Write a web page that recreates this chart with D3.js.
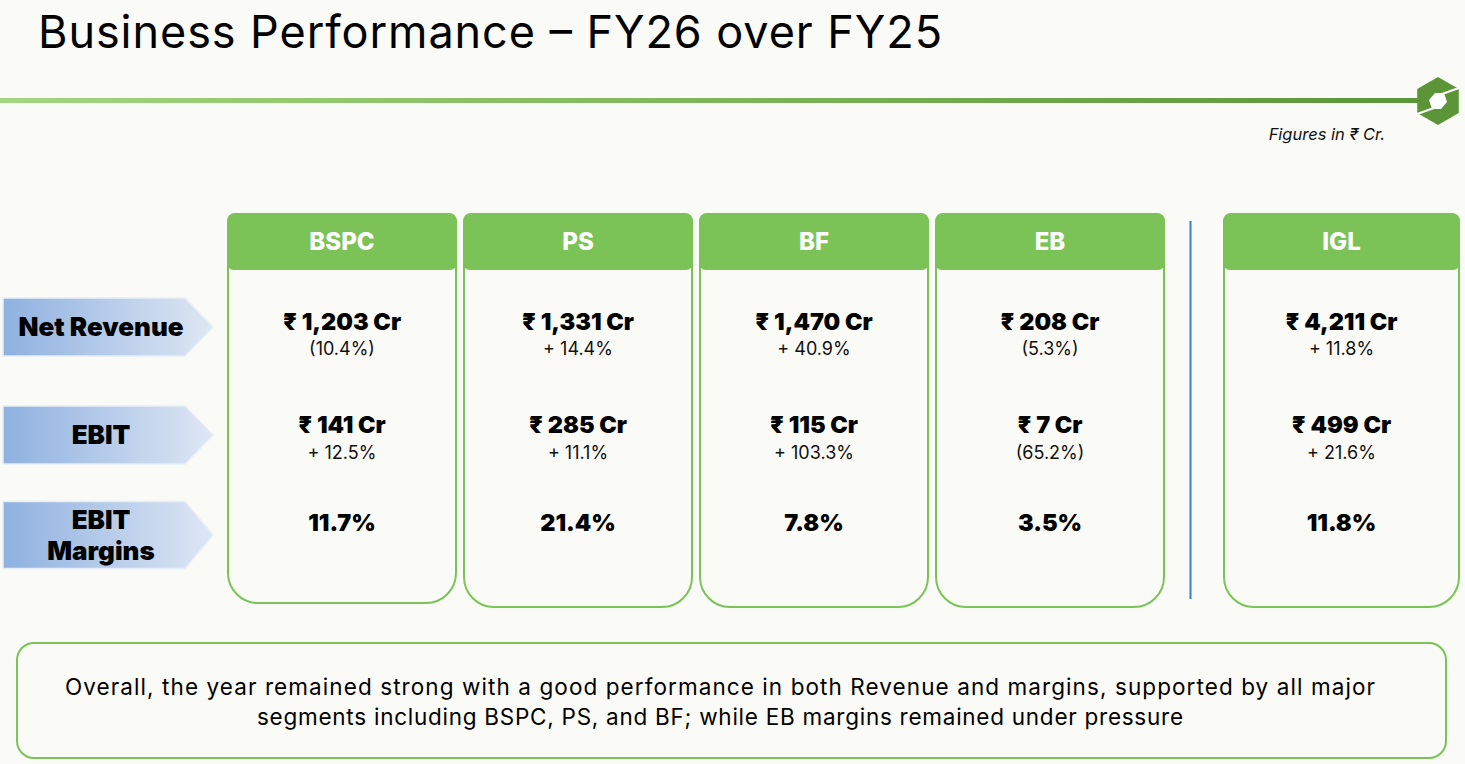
<!DOCTYPE html>
<html>
<head>
<meta charset="utf-8">
<script src="https://cdn.jsdelivr.net/npm/d3@7"></script>
<style>
  html, body { margin: 0; padding: 0; background: #fafaf6; }
  svg { display: block; }
  text { font-family: Inter, "Noto Sans", sans-serif; }
</style>
</head>
<body>
<svg id="chart" width="1465" height="764"></svg>
<script>
// Segment data (FY26 over FY25, figures in Rs Cr)
const segments = ["BSPC", "PS", "BF", "EB", "IGL"];
const rows = ["Net Revenue", "EBIT", "EBIT Margins"];
const revenue = [1203, 1331, 1470, 208, 4211];
const revenueGrowth = [-10.4, 14.4, 40.9, -5.3, 11.8];
const ebit = [141, 285, 115, 7, 499];
const ebitGrowth = [12.5, 11.1, 103.3, -65.2, 21.6];
const ebitMargin = [11.7, 21.4, 7.8, 3.5, 11.8];
const totalSegment = "IGL";

const title = "Business Performance – FY26 over FY25";
const unitNote = "Figures in ₹ Cr.";
const summary = [
  "Overall, the year remained strong with a good performance in both Revenue and margins, supported by all major",
  "segments including BSPC, PS, and BF; while EB margins remained under pressure"
];

const svg = d3.select("#chart");
const defs = svg.append("defs");

const green = "#7bc357";
const fmtNum = d3.format(",");
const fmtPct = (v) => (v < 0 ? `(${Math.abs(v).toFixed(1)}%)` : `+ ${v.toFixed(1)}%`);
const fmtCr = (v) => `₹ ${fmtNum(v)} Cr`;

// gradients
const lineGrad = defs.append("linearGradient").attr("id", "lineGrad");
lineGrad.append("stop").attr("offset", "0%").attr("stop-color", "#a2d67f");
lineGrad.append("stop").attr("offset", "100%").attr("stop-color", "#5a9536");

const arrowGrad = defs.append("linearGradient").attr("id", "arrowGrad");
arrowGrad.append("stop").attr("offset", "0%").attr("stop-color", "#8eb1e0");
arrowGrad.append("stop").attr("offset", "100%").attr("stop-color", "#dfe7f4");

// title + header rule
svg.append("text")
  .attr("x", 38).attr("y", 48)
  .attr("font-size", 45).attr("fill", "#000")
  .attr("textLength", 904).attr("lengthAdjust", "spacing")
  .text(title);

svg.append("rect")
  .attr("x", 0).attr("y", 98).attr("width", 1425).attr("height", 5)
  .attr("fill", "url(#lineGrad)");

// logo hexagon
const logo = svg.append("g").attr("transform", "translate(1438,101)");
const hexR = 24;
logo.append("polygon")
  .attr("points", d3.range(6).map((i) => {
    const a = Math.PI / 3 * i - Math.PI / 2;
    return [hexR * Math.cos(a), hexR * Math.sin(a)].join(",");
  }).join(" "))
  .attr("fill", "#5b9538");
logo.append("polygon")
  .attr("points", "-9,-1 -3,-8 6,-8 9,1 3,8 -6,8")
  .attr("fill", "#fff");
logo.append("line").attr("x1", 4).attr("y1", -7).attr("x2", 21).attr("y2", -13)
  .attr("stroke", "#fff").attr("stroke-width", 2);
logo.append("line").attr("x1", -4).attr("y1", 7).attr("x2", -21).attr("y2", 13)
  .attr("stroke", "#fff").attr("stroke-width", 2);

svg.append("text")
  .attr("x", 1385).attr("y", 140)
  .attr("text-anchor", "end")
  .attr("font-size", 16.5).attr("font-style", "italic").attr("fill", "#111")
  .text(unitNote);

// scales
const x = d3.scaleBand()
  .domain(segments)
  .range([228, 1400])
  .paddingInner(8 / 236);
const totalShift = 52;
const cardX = (s) => x(s) + (s === totalSegment ? totalShift : 0);
const cardW = (s) => x.bandwidth() + (s === totalSegment ? 7 : 0);

const y = d3.scalePoint()
  .domain(rows)
  .range([327, 535]);
// EBIT row sits a bit higher than the even split
const rowY = (r) => (r === "EBIT" ? 435 : y(r));

// row label arrows
const labels = svg.append("g").selectAll("g")
  .data(rows)
  .join("g")
  .attr("transform", (d) => `translate(0,${rowY(d)})`);

labels.append("path")
  .attr("d", (d) => {
    const h = d === "EBIT Margins" ? 67 : 58;
    return `M3,${-h / 2} H185 L213,0 L185,${h / 2} H3 Z`;
  })
  .attr("fill", "url(#arrowGrad)")
  .attr("stroke", "#e8eef8").attr("stroke-width", 1.5);

labels.append("text")
  .attr("x", 101)
  .attr("text-anchor", "middle")
  .attr("font-size", 26).attr("font-weight", 900).attr("fill", "#000")
  .each(function (d) {
    const parts = d === "EBIT Margins" ? ["EBIT", "Margins"] : [d];
    const t = d3.select(this);
    parts.forEach((p, i) => {
      t.append("tspan")
        .attr("x", 101)
        .attr("dy", parts.length === 1 ? 9 : i === 0 ? -6 : 31)
        .text(p);
    });
  });

// card outline helper
function cardPath(x0, y0, w, h, rt, rb) {
  return `M${x0},${y0 + rt} Q${x0},${y0} ${x0 + rt},${y0} H${x0 + w - rt} Q${x0 + w},${y0} ${x0 + w},${y0 + rt}` +
    ` V${y0 + h - rb} A${rb},${rb} 0 0 1 ${x0 + w - rb},${y0 + h} H${x0 + rb} A${rb},${rb} 0 0 1 ${x0},${y0 + h - rb} Z`;
}

const cardTop = 214;
const cardBottom = (s) => (s === "BSPC" ? 603 : 607);
const headerH = 57;

const cards = svg.append("g").selectAll("g")
  .data(segments.map((s, i) => ({
    seg: s,
    revenue: revenue[i],
    revenueGrowth: revenueGrowth[i],
    ebit: ebit[i],
    ebitGrowth: ebitGrowth[i],
    margin: ebitMargin[i]
  })))
  .join("g");

cards.append("path")
  .attr("d", (d) => cardPath(cardX(d.seg), cardTop, cardW(d.seg), cardBottom(d.seg) - cardTop, 9, 30))
  .attr("fill", "#fafaf6")
  .attr("stroke", green).attr("stroke-width", 2);

cards.append("path")
  .attr("d", (d) => cardPath(cardX(d.seg) - 1, cardTop - 1, cardW(d.seg) + 2, headerH, 9, 7))
  .attr("fill", green);

cards.append("text")
  .attr("x", (d) => cardX(d.seg) + cardW(d.seg) / 2)
  .attr("y", cardTop + 36)
  .attr("text-anchor", "middle")
  .attr("font-size", 24).attr("font-weight", 800).attr("fill", "#fff")
  .text((d) => d.seg);

const cx = (d) => cardX(d.seg) + cardW(d.seg) / 2;

// Net revenue
cards.append("text")
  .attr("x", cx).attr("y", rowY("Net Revenue") + 3)
  .attr("text-anchor", "middle")
  .attr("font-size", 23.5).attr("font-weight", 900).attr("fill", "#000")
  .text((d) => fmtCr(d.revenue));
cards.append("text")
  .attr("x", cx).attr("y", rowY("Net Revenue") + 28)
  .attr("text-anchor", "middle")
  .attr("font-size", 18).attr("fill", "#111")
  .text((d) => fmtPct(d.revenueGrowth));

// EBIT
cards.append("text")
  .attr("x", cx).attr("y", rowY("EBIT") - 2)
  .attr("text-anchor", "middle")
  .attr("font-size", 23.5).attr("font-weight", 900).attr("fill", "#000")
  .text((d) => fmtCr(d.ebit));
cards.append("text")
  .attr("x", cx).attr("y", rowY("EBIT") + 24)
  .attr("text-anchor", "middle")
  .attr("font-size", 18).attr("fill", "#111")
  .text((d) => fmtPct(d.ebitGrowth));

// EBIT margin
cards.append("text")
  .attr("x", cx).attr("y", rowY("EBIT Margins") - 4)
  .attr("text-anchor", "middle")
  .attr("font-size", 23.5).attr("font-weight", 900).attr("fill", "#000")
  .text((d) => `${d.margin.toFixed(1)}%`);

// divider between segments and total
svg.append("line")
  .attr("x1", 1190.5).attr("x2", 1190.5)
  .attr("y1", 221).attr("y2", 599)
  .attr("stroke", "#3a7fd0").attr("stroke-width", 2);

// summary box
svg.append("rect")
  .attr("x", 17).attr("y", 643).attr("width", 1429).attr("height", 115)
  .attr("rx", 17)
  .attr("fill", "#fafaf6")
  .attr("stroke", green).attr("stroke-width", 2);

const sumWidths = [1310, 926];
svg.append("g").selectAll("text")
  .data(summary)
  .join("text")
  .attr("x", 720)
  .attr("y", (d, i) => 695 + i * 30)
  .attr("text-anchor", "middle")
  .attr("font-size", 22.5).attr("fill", "#000")
  .attr("textLength", (d, i) => sumWidths[i])
  .attr("lengthAdjust", "spacing")
  .text((d) => d);
</script>
</body>
</html>
